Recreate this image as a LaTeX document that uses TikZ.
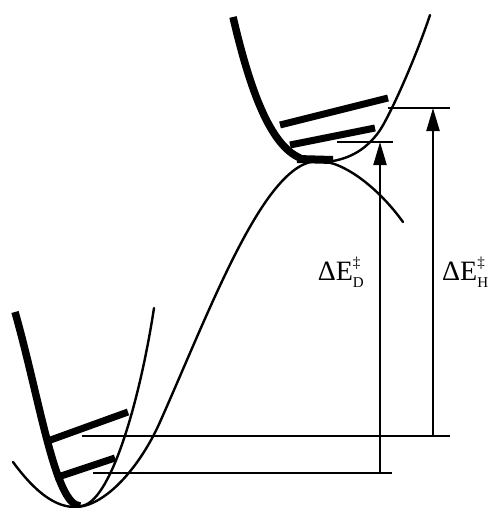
\documentclass[tikz,border=0pt]{standalone}
\usepackage{fontspec}
\setmainfont{Liberation Serif}
\usetikzlibrary{arrows.meta}
\begin{document}
\begin{tikzpicture}[x=1pt,y=-1pt,
  thinline/.style={line width=2.4pt, line cap=round, line join=round},
  heavy/.style={line width=7.5pt, line cap=butt, line join=round},
  levelbar/.style={line width=7pt, line cap=butt},
  refline/.style={line width=2.2pt},
  energy/.style={line width=2.2pt, -{Triangle[length=23pt,width=13pt]}},
  lab/.style={font=\fontsize{28}{30}\selectfont, inner sep=0pt}]
\useasboundingbox (0,0) rectangle (501,508);
\fill[white] (0,0) rectangle (501,508);
% reaction coordinate curve
\draw[thinline] (13,462) .. controls (35,492) and (55,507) .. (75,507)
  .. controls (105,507) and (140,467) .. (160,422)
  .. controls (212,305) and (265,161) .. (318,161)
  .. controls (345,161) and (380,190) .. (403,222);
% lower well parabola
\draw[heavy] (15,312) .. controls (40,400) and (55,505) .. (80,506);
\draw[thinline] (80,506) .. controls (110,506) and (140,400) .. (154,308);
% upper well parabola
\draw[heavy] (233,17) .. controls (250,90) and (270,145) .. (300,158);
\draw[line width=8pt, line cap=butt] (297,159) -- (333,160);
\draw[thinline] (333,161) .. controls (355,157) and (368,146) .. (378,133)
  .. controls (388,120) and (415,60) .. (430,15);
% vibrational levels
\draw[levelbar] (280,125) -- (388,98);
\draw[levelbar] (290,145) -- (375,128);
\draw[levelbar] (45,442) -- (128,412);
\draw[levelbar] (55,478) -- (115,458);
% reference lines
\coordinate (hTop) at (388,108); \coordinate (hTopE) at (450,108);
\coordinate (dTop) at (337,142); \coordinate (dTopE) at (393,142);
\coordinate (hBot) at (82,436); \coordinate (hBotE) at (450,436);
\coordinate (dBot) at (93,473); \coordinate (dBotE) at (392,473);
\draw[refline] (hTop) -- (hTopE);
\draw[refline] (dTop) -- (dTopE);
\draw[refline] (hBot) -- (hBotE);
\draw[refline] (dBot) -- (dBotE);
% arrows
\coordinate (dA) at (380,473); \coordinate (dB) at (380,142);
\coordinate (hA) at (433,436); \coordinate (hB) at (433,108);
\draw[energy] (dA) -- (dB);
\draw[energy] (hA) -- (hB);
% labels
\node[lab, anchor=base east] (labD) at (364,280) {ΔE\makebox[0pt][l]{\raisebox{13pt}{\fontsize{15}{15}\selectfont ‡}}\raisebox{-7pt}{\fontsize{15}{15}\selectfont D}};
\node[lab, anchor=base west] (labH) at (442,280) {ΔE\makebox[0pt][l]{\raisebox{13pt}{\fontsize{15}{15}\selectfont ‡}}\raisebox{-7pt}{\fontsize{15}{15}\selectfont H}};
\end{tikzpicture}
\end{document}
